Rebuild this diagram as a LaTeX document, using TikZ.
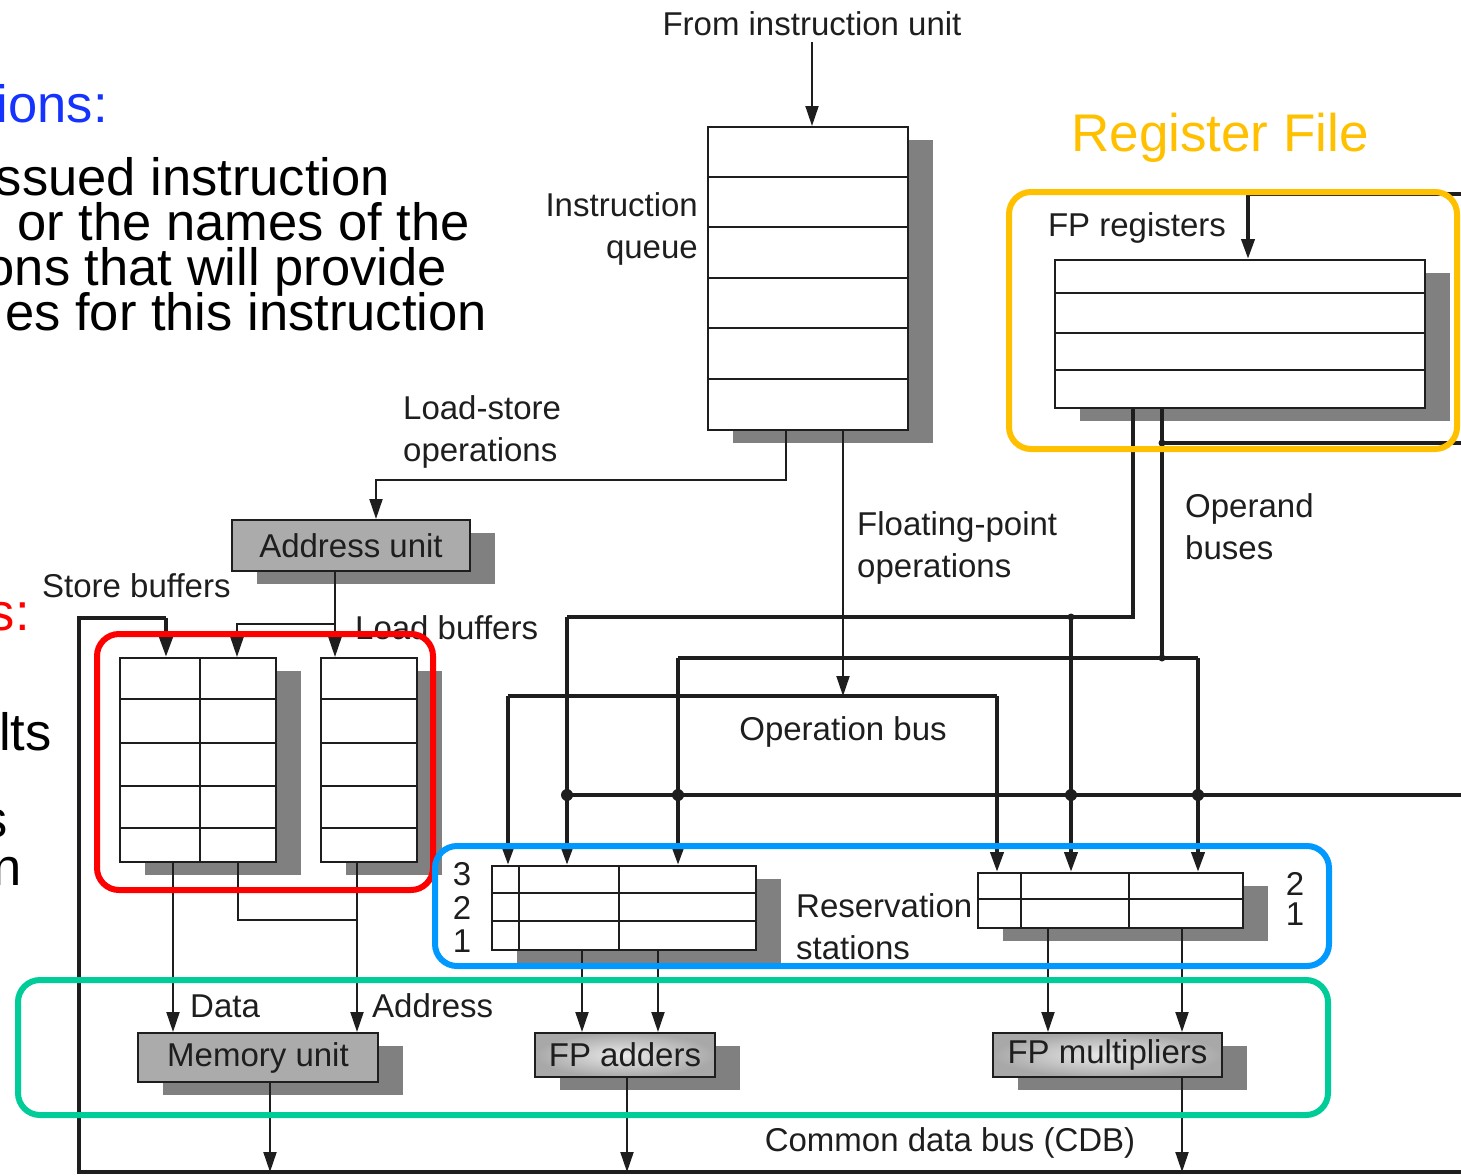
\documentclass[tikz,border=0pt]{standalone}
\usepackage{fontspec}
\setmainfont{Liberation Sans}
\usetikzlibrary{arrows.meta,shadows,calc}
\definecolor{ink}{HTML}{1E1E1E}
\definecolor{shd}{HTML}{808080}
\definecolor{unitgray}{HTML}{ABABAB}
\definecolor{annblue}{HTML}{0099FF}
\definecolor{annred}{HTML}{FF0000}
\definecolor{anngreen}{HTML}{00CC99}
\definecolor{annyellow}{HTML}{FFC000}
\definecolor{txtblue}{HTML}{1433FF}
\newcommand\lblfont{\fontsize{33}{42}\selectfont}
\newcommand\bigfont{\fontsize{52.5}{46}\selectfont}
\begin{document}
\begin{tikzpicture}[x=1pt,y=-1pt,
  box/.style={draw=ink, line width=2pt, fill=white, inner sep=0pt, drop shadow={shadow xshift=25pt, shadow yshift=-13pt, fill=shd, opacity=1}},
  unit/.style={box, fill=unitgray, font=\lblfont, text=ink},
  fpunit/.style={box, shading=radial, inner color=white!92!black, outer color=white!66!black, font=\lblfont, text=ink},
  wire/.style={draw=ink, line width=2pt},
  bus/.style={draw=ink, line width=4pt},
  arr/.style={-{Triangle[width=13pt,length=20pt]}},
  lbl/.style={font=\lblfont, text=ink, inner sep=0pt},
  ann/.style={rounded corners=22pt, line width=6pt},
  jdot/.style={circle, fill=ink, inner sep=0pt, minimum size=12pt},
  sdot/.style={circle, fill=ink, inner sep=0pt, minimum size=7pt},
  big/.style={font=\bigfont, inner sep=0pt},
]
\useasboundingbox (0,0) rectangle (1461,1175);
\clip (0,0) rectangle (1461,1175);

% ---------- boxes ----------
\node[box, minimum width=200pt, minimum height=303pt] (iq) at (808,278.5) {};
\foreach \d in {50.5,101,151.5,202,252.5}
  \draw[wire] ($(iq.north west)+(0,\d)$) -- ($(iq.north east)+(0,\d)$);

\node[unit, minimum width=238pt, minimum height=51pt] (au) at (351,545.5) {Address unit};

\node[box, minimum width=156pt, minimum height=204pt] (sb) at (198,760) {};
\foreach \d in {42,86,129,171}
  \draw[wire] ($(sb.north west)+(0,\d)$) -- ($(sb.north east)+(0,\d)$);
\draw[wire] ($(sb.north west)+(81,0)$) -- ($(sb.south west)+(81,0)$);

\node[box, minimum width=96pt, minimum height=204pt] (lb) at (369,760) {};
\foreach \d in {42,86,129,171}
  \draw[wire] ($(lb.north west)+(0,\d)$) -- ($(lb.north east)+(0,\d)$);

\node[box, minimum width=264pt, minimum height=84pt] (lrs) at (624,908) {};
\foreach \d in {28,56}
  \draw[wire] ($(lrs.north west)+(0,\d)$) -- ($(lrs.north east)+(0,\d)$);
\foreach \d in {28,128}
  \draw[wire] ($(lrs.north west)+(\d,0)$) -- ($(lrs.south west)+(\d,0)$);

\node[box, minimum width=265pt, minimum height=55pt] (rrs) at (1110.5,900.5) {};
\draw[wire] ($(rrs.north west)+(0,27)$) -- ($(rrs.north east)+(0,27)$);
\foreach \d in {44,152}
  \draw[wire] ($(rrs.north west)+(\d,0)$) -- ($(rrs.south west)+(\d,0)$);

\node[box, minimum width=370pt, minimum height=148pt] (fpr) at (1240,334) {};
\foreach \d in {34,74,111}
  \draw[wire] ($(fpr.north west)+(0,\d)$) -- ($(fpr.north east)+(0,\d)$);

\node[unit, minimum width=240pt, minimum height=49pt] (mu) at (258,1057.5) {Memory unit};
\node[fpunit, minimum width=180pt, minimum height=44pt] (fa) at (625,1055) {FP adders};
\node[fpunit, minimum width=229pt, minimum height=44pt] (fm) at (1107.5,1055) {FP multipliers};

% ---------- coordinates ----------
\coordinate (fromiu) at (812,42);
\coordinate (ls) at (376,480);
\coordinate (obm) at (843,696);
\coordinate (ob1) at (508,696);
\coordinate (ob2) at (997,696);
\coordinate (fl1) at (567,617);
\coordinate (j1) at (1071,617);
\coordinate (fl2) at (678,658);
\coordinate (j2) at (1162,658);
\coordinate (fe2) at (1198,658);
\coordinate (brA) at (335,624);
\coordinate (brB) at (237,624);
\coordinate (sbin) at (166,618);
\coordinate (cdbcorner) at (79,1172);
\coordinate (cdbend) at (1461,1172);
\coordinate (cdbr) at (1461,795);
\coordinate (cdbl) at (567,795);
\coordinate (fprin) at (1248,194);
\coordinate (fprinR) at (1461,194);
\coordinate (jr) at (1162,443);
\coordinate (jrR) at (1461,443);
\coordinate (sbjoin) at (357,920);

% ---------- thin connectors ----------
\draw[wire,arr] (fromiu) -- ([xshift=4pt]iq.north);
\draw[wire,arr] ([xshift=-22pt]iq.south) |- (ls) -- (ls |- au.north);
\draw[wire,arr] ([xshift=35pt]iq.south) -- (obm);
\draw[wire,arr] ([xshift=-16pt]au.south) -- (brA) -- (brA |- lb.north);
\draw[wire,arr] (brA) -- (brB) -- (brB |- sb.north);
\draw[wire,arr] ([xshift=-25pt]sb.south) -- ([xshift=-85pt]mu.north);
\draw[wire] ([xshift=40pt]sb.south) |- (sbjoin);
\draw[wire,arr] ([xshift=-12pt]lb.south) -- ([xshift=99pt]mu.north);
\draw[wire,arr] ([xshift=-42pt]lrs.south) -- ([xshift=-43pt]fa.north);
\draw[wire,arr] ([xshift=34pt]lrs.south) -- ([xshift=33pt]fa.north);
\draw[wire,arr] ([xshift=-62.5pt]rrs.south) -- ([xshift=-59.5pt]fm.north);
\draw[wire,arr] ([xshift=71.5pt]rrs.south) -- ([xshift=74.5pt]fm.north);
\draw[wire,arr] ([xshift=12pt]mu.south) -- ([xshift=12pt]mu.south |- cdbcorner);
\draw[wire,arr] ([xshift=2pt]fa.south) -- ([xshift=2pt]fa.south |- cdbcorner);
\draw[wire,arr] ([xshift=74.5pt]fm.south) -- ([xshift=74.5pt]fm.south |- cdbcorner);

% ---------- buses ----------
\draw[bus] (cdbend) -- (cdbcorner) -- (79,618) -- (sbin);
\draw[bus,arr] (sbin) -- (sbin |- sb.north);
\draw[bus,arr] (fprinR) -- (fprin) -- (fprin |- fpr.north);
\draw[bus] ([xshift=-107pt]fpr.south) |- (fl1);
\draw[bus,arr] (fl1) -- (fl1 |- lrs.north);
\draw[bus,arr] (j1) -- (j1 |- rrs.north);
\draw[bus] ([xshift=-78pt]fpr.south) -- (j2);
\draw[bus] (jr) -- (jrR);
\draw[bus] (fl2) -- (fe2);
\draw[bus,arr] (fl2) -- (fl2 |- lrs.north);
\draw[bus,arr] (fe2) -- (fe2 |- rrs.north);
\draw[bus,arr] (ob1) -- (ob1 |- lrs.north);
\draw[bus] (ob1) -- (ob2);
\draw[bus,arr] (ob2) -- (ob2 |- rrs.north);
\draw[bus] (cdbl) -- (cdbr);
\foreach \x in {567,678,1071,1198} \node[jdot] at (\x,795) {};
\node[sdot] at (j1) {};
\node[sdot] at (j2) {};
\node[sdot] at (jr) {};

% ---------- labels ----------
\node[lbl] (tfrom) at (812,24) {From instruction unit};
\node[lbl, anchor=east, align=right] (tiq) at (698,229) {Instruction\\queue};
\node[lbl, anchor=west, align=left] (tls) at (403,432) {Load-store\\operations};
\node[lbl, anchor=west, align=left] (tfp) at (857,548) {Floating-point\\operations};
\node[lbl, anchor=west, align=left] (top) at (1185,527) {Operand\\buses};
\node[lbl, anchor=west] (tsb) at (42,586) {Store buffers};
\node[lbl, anchor=west] (tlb) at (355,628) {Load buffers};
\node[lbl] (tob) at (843,732) {Operation bus};
\node[lbl, anchor=west, align=left] (trs) at (796,927) {Reservation\\stations};
\node[lbl] (n3) at (462,874) {3};
\node[lbl] (n2) at (462,908) {2};
\node[lbl] (n1) at (462,941) {1};
\node[lbl] (m2) at (1295,884) {2};
\node[lbl] (m1) at (1295,914) {1};
\node[lbl, anchor=west] (tdata) at (190,1006) {Data};
\node[lbl, anchor=west] (taddr) at (372,1006) {Address};
\node[lbl] (tcdb) at (950,1143) {Common data bus (CDB)};
\node[lbl] (tfpr) at (1137,228) {FP registers};
\node[font=\fontsize{53}{60}\selectfont, text=annyellow, inner sep=0pt] (trf) at (1220,138) {Register File};

% ---------- left annotation text (cut by the page edge) ----------
\node[big, text=txtblue, anchor=base east] (a1) at (108,122) {ions:};
\node[big, anchor=base east] (a2) at (390,195) {ssued instruction};
\node[big, anchor=base east] (a3) at (470,240) {or the names of the};
\node[big, anchor=base east] (a4) at (447,285) {ons that will provide};
\node[big, anchor=base east] (a5) at (487,330) {es for this instruction};
\node[big, text=annred, anchor=base east] (b1) at (30,630) {s:};
\node[big, anchor=base east] (b2) at (52,750) {lts};
\node[big, anchor=base east] (b3) at (8,837) {s};
\node[big, anchor=base east] (b4) at (22,885) {n};

% ---------- annotation frames ----------
\draw[ann, draw=annyellow] (1009,192) rectangle (1457,449);
\draw[ann, draw=annred] (97,634) rectangle (433,890);
\draw[ann, draw=annblue] (435,846) rectangle (1329,966);
\draw[ann, draw=anngreen] (18,980) rectangle (1328,1115);
\end{tikzpicture}
\end{document}
